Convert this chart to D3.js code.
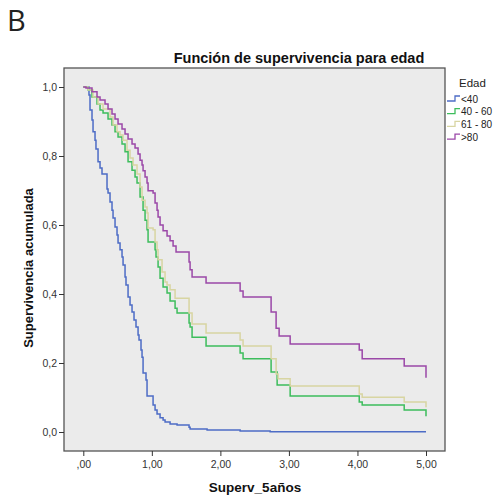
<!DOCTYPE html>
<html>
<head>
<meta charset="utf-8">
<script src="https://cdn.jsdelivr.net/npm/d3@7"></script>
<style>
  body { margin: 0; background: #fff; }
  svg text { font-family: "Liberation Sans", Arial, sans-serif; }
</style>
</head>
<body>
<div id="chart"></div>
<script>
// group labels + legend
var groups = ["<40", "40 - 60", "61 - 80", ">80"];
var colors = ["#4d6cc6", "#3dbd5c", "#d8d5a2", "#9b48a8"];

var xTicks = [0, 1, 2, 3, 4, 5];
var yTicks = [0, 0.2, 0.4, 0.6, 0.8, 1.0];

// step times (years) and survival after each step
var timeU40 = [0.083, 0.098, 0.127, 0.142, 0.171, 0.185, 0.215, 0.244, 0.273, 0.346, 0.361, 0.390, 0.419, 0.434, 0.463, 0.492, 0.507, 0.536, 0.565, 0.580, 0.609, 0.623, 0.653, 0.682, 0.711, 0.740, 0.769, 0.799, 0.813, 0.842, 0.857, 0.872, 0.915, 0.930, 1.018, 1.047, 1.076, 1.120, 1.164, 1.193, 1.266, 1.368, 1.543, 1.558, 1.806, 2.288, 2.726, 5.0];
var survU40 = [0.977, 0.933, 0.904, 0.870, 0.846, 0.820, 0.783, 0.765, 0.748, 0.704, 0.693, 0.667, 0.643, 0.620, 0.594, 0.571, 0.548, 0.528, 0.507, 0.484, 0.449, 0.426, 0.391, 0.368, 0.348, 0.325, 0.304, 0.281, 0.267, 0.238, 0.217, 0.171, 0.151, 0.104, 0.078, 0.064, 0.052, 0.041, 0.035, 0.029, 0.023, 0.020, 0.014, 0.009, 0.006, 0.003, 0.001, 0.001];

var time4060 = [0.069, 0.127, 0.200, 0.244, 0.288, 0.361, 0.419, 0.463, 0.507, 0.565, 0.609, 0.653, 0.711, 0.755, 0.784, 0.828, 0.872, 0.901, 0.930, 0.945, 1.047, 1.061, 1.091, 1.120, 1.164, 1.222, 1.266, 1.339, 1.368, 1.543, 1.558, 1.587, 1.791, 2.288, 2.331, 2.740, 2.828, 3.018, 4.026, 4.069, 4.682, 5.0];
var surv4060 = [0.991, 0.971, 0.951, 0.933, 0.925, 0.907, 0.890, 0.870, 0.855, 0.835, 0.812, 0.783, 0.759, 0.739, 0.722, 0.681, 0.643, 0.614, 0.586, 0.551, 0.528, 0.507, 0.478, 0.446, 0.420, 0.403, 0.380, 0.359, 0.345, 0.316, 0.304, 0.275, 0.249, 0.229, 0.212, 0.174, 0.136, 0.104, 0.087, 0.078, 0.064, 0.046];

var time6180 = [0.069, 0.142, 0.215, 0.288, 0.390, 0.434, 0.492, 0.536, 0.580, 0.638, 0.682, 0.726, 0.784, 0.828, 0.857, 0.901, 0.930, 0.945, 1.018, 1.047, 1.076, 1.091, 1.149, 1.193, 1.222, 1.266, 1.339, 1.543, 1.587, 1.791, 2.288, 2.331, 2.740, 2.813, 2.842, 3.018, 4.026, 4.069, 4.682, 5.0];
var surv6180 = [0.991, 0.971, 0.951, 0.936, 0.913, 0.890, 0.870, 0.861, 0.846, 0.817, 0.794, 0.774, 0.748, 0.710, 0.672, 0.652, 0.635, 0.591, 0.586, 0.551, 0.528, 0.499, 0.464, 0.435, 0.426, 0.412, 0.388, 0.345, 0.313, 0.287, 0.267, 0.249, 0.212, 0.168, 0.154, 0.133, 0.110, 0.101, 0.087, 0.072];

var time80 = [0.039, 0.127, 0.200, 0.244, 0.317, 0.361, 0.419, 0.463, 0.507, 0.565, 0.609, 0.653, 0.711, 0.755, 0.799, 0.828, 0.857, 0.872, 0.901, 0.930, 0.945, 1.018, 1.047, 1.076, 1.091, 1.120, 1.164, 1.222, 1.266, 1.310, 1.353, 1.543, 1.558, 1.587, 1.791, 2.288, 2.331, 2.740, 2.813, 2.857, 3.018, 4.026, 4.069, 4.682, 5.0];
var surv80 = [0.997, 0.986, 0.971, 0.962, 0.951, 0.936, 0.922, 0.907, 0.893, 0.878, 0.864, 0.849, 0.835, 0.823, 0.806, 0.788, 0.774, 0.757, 0.739, 0.722, 0.699, 0.693, 0.664, 0.643, 0.623, 0.600, 0.583, 0.568, 0.554, 0.539, 0.522, 0.493, 0.470, 0.449, 0.432, 0.409, 0.391, 0.348, 0.301, 0.278, 0.255, 0.238, 0.212, 0.191, 0.157];

var W = 500, H = 497;
var box = { x: 64, y: 68, w: 381, h: 383 };

var svg = d3.select("#chart").append("svg")
    .attr("width", W)
    .attr("height", H);

// panel letter
svg.append("text")
    .attr("x", 7).attr("y", 31)
    .style("font-family", "'Open Sans', sans-serif")
    .style("font-size", "29px")
    .attr("fill", "#222")
    .text("B");

svg.append("text")
    .attr("x", 299).attr("y", 63)
    .attr("text-anchor", "middle")
    .style("font-size", "14.5px")
    .style("font-weight", "bold")
    .attr("fill", "#111")
    .text("Función de supervivencia para edad");

svg.append("rect")
    .attr("x", box.x).attr("y", box.y)
    .attr("width", box.w).attr("height", box.h)
    .attr("fill", "#ebebeb")
    .attr("stroke", "#555")
    .attr("stroke-width", 1.3);

var x = d3.scaleLinear().domain([0, 5]).range([83.3, 426]);
var y = d3.scaleLinear().domain([0, 1]).range([432, 87]);

var yAxis = d3.axisLeft(y)
    .tickValues(yTicks)
    .tickSize(5)
    .tickPadding(2)
    .tickFormat(function (d) { return d.toFixed(1).replace(".", ","); });

var xAxis = d3.axisBottom(x)
    .tickValues(xTicks)
    .tickSize(5)
    .tickPadding(5)
    .tickFormat(function (d) {
        if (d === 0) return ",00";
        return d.toFixed(2).replace(".", ",");
    });

var gy = svg.append("g")
    .attr("transform", "translate(" + box.x + ",0)")
    .call(yAxis);
var gx = svg.append("g")
    .attr("transform", "translate(0," + (box.y + box.h) + ")")
    .call(xAxis);

[gx, gy].forEach(function (g) {
    g.select(".domain").remove();
    g.selectAll(".tick line").attr("stroke", "#333");
    g.selectAll(".tick text")
        .attr("fill", "#333")
        .style("font-size", "10.5px")
        .style("font-family", "'Liberation Sans', Arial, sans-serif");
});

svg.append("text")
    .attr("transform", "translate(33,268) rotate(-90)")
    .attr("text-anchor", "middle")
    .style("font-size", "13px")
    .style("font-weight", "bold")
    .attr("fill", "#111")
    .text("Supervivencia acumulada");

svg.append("text")
    .attr("x", 255).attr("y", 492)
    .attr("text-anchor", "middle")
    .style("font-size", "13.5px")
    .style("font-weight", "bold")
    .attr("fill", "#111")
    .text("Superv_5años");

// survival curves
var series = [
    { times: timeU40, surv: survU40 },
    { times: time4060, surv: surv4060 },
    { times: time6180, surv: surv6180 },
    { times: time80, surv: surv80 }
];

var line = d3.line()
    .x(function (d) { return x(d[0]); })
    .y(function (d) { return y(d[1]); })
    .curve(d3.curveStepAfter);

// draw in order so purple ends on top
series.forEach(function (s, i) {
    var pts = [[0, 1]];
    for (var k = 0; k < s.times.length; k++) {
        pts.push([s.times[k], s.surv[k]]);
    }
    svg.append("path")
        .datum(pts)
        .attr("d", line)
        .attr("fill", "none")
        .attr("stroke", colors[i])
        .attr("stroke-width", 1.5);
});

// legend
var lg = svg.append("g");
lg.append("text")
    .attr("x", 459).attr("y", 87)
    .style("font-size", "11.5px")
    .attr("fill", "#222")
    .text("Edad");

var items = lg.selectAll("g.item")
    .data(groups)
    .enter()
    .append("g")
    .attr("class", "item")
    .attr("transform", function (d, i) { return "translate(0," + (99 + i * 12.7) + ")"; });

items.append("path")
    .attr("d", "M447,2 H455 V-3 H460")
    .attr("fill", "none")
    .attr("stroke", function (d, i) { return colors[i]; })
    .attr("stroke-width", 1.3);

items.append("text")
    .attr("x", 461).attr("y", 3.5)
    .style("font-size", "10px")
    .attr("fill", "#222")
    .text(function (d) { return d; });
</script>
</body>
</html>
